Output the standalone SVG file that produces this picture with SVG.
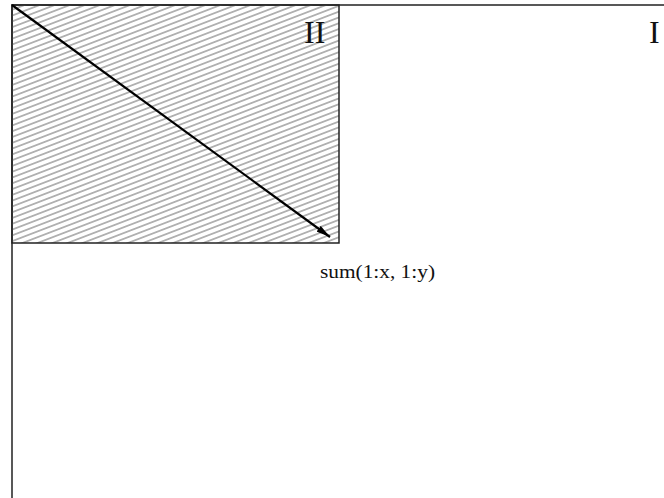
<svg xmlns="http://www.w3.org/2000/svg" width="664" height="498" viewBox="0 0 664 498">
<defs>
<pattern id="hatch" patternUnits="userSpaceOnUse" width="20" height="5.4" patternTransform="rotate(-21)">
<line x1="0" y1="2.7" x2="20" y2="2.7" stroke="#888" stroke-width="1.2"/>
</pattern>
<marker id="arrow" viewBox="0 0 14 7" refX="14" refY="3.5" markerWidth="14" markerHeight="7" markerUnits="userSpaceOnUse" orient="auto">
<path d="M0,0 L14,3.5 L0,7 Z" fill="#000"/>
</marker>
<style>
.frame{fill:none;stroke:#222;stroke-width:1.5}
.lbl{font-family:"Liberation Serif","Times New Roman",serif;fill:#111}
</style>
</defs>
<rect width="664" height="498" fill="#fff"/>
<g id="region-I">
<rect class="frame" x="12" y="5" width="700" height="560"/>
<text class="lbl" x="649" y="43" font-size="32">I</text>
</g>
<g id="region-II">
<rect x="12" y="5" width="327" height="238" fill="url(#hatch)"/>
<rect class="frame" x="12" y="5" width="327" height="238"/>
<text class="lbl" x="304" y="43" font-size="32">II</text>
</g>
<g id="connectors">
<line x1="12" y1="5" x2="330" y2="237" stroke="#000" stroke-width="2.2" marker-end="url(#arrow)"/>
</g>
<g id="label-sum">
<text class="lbl" x="320" y="278" font-size="18" textLength="115" lengthAdjust="spacingAndGlyphs">sum(1:x, 1:y)</text>
</g>
</svg>
